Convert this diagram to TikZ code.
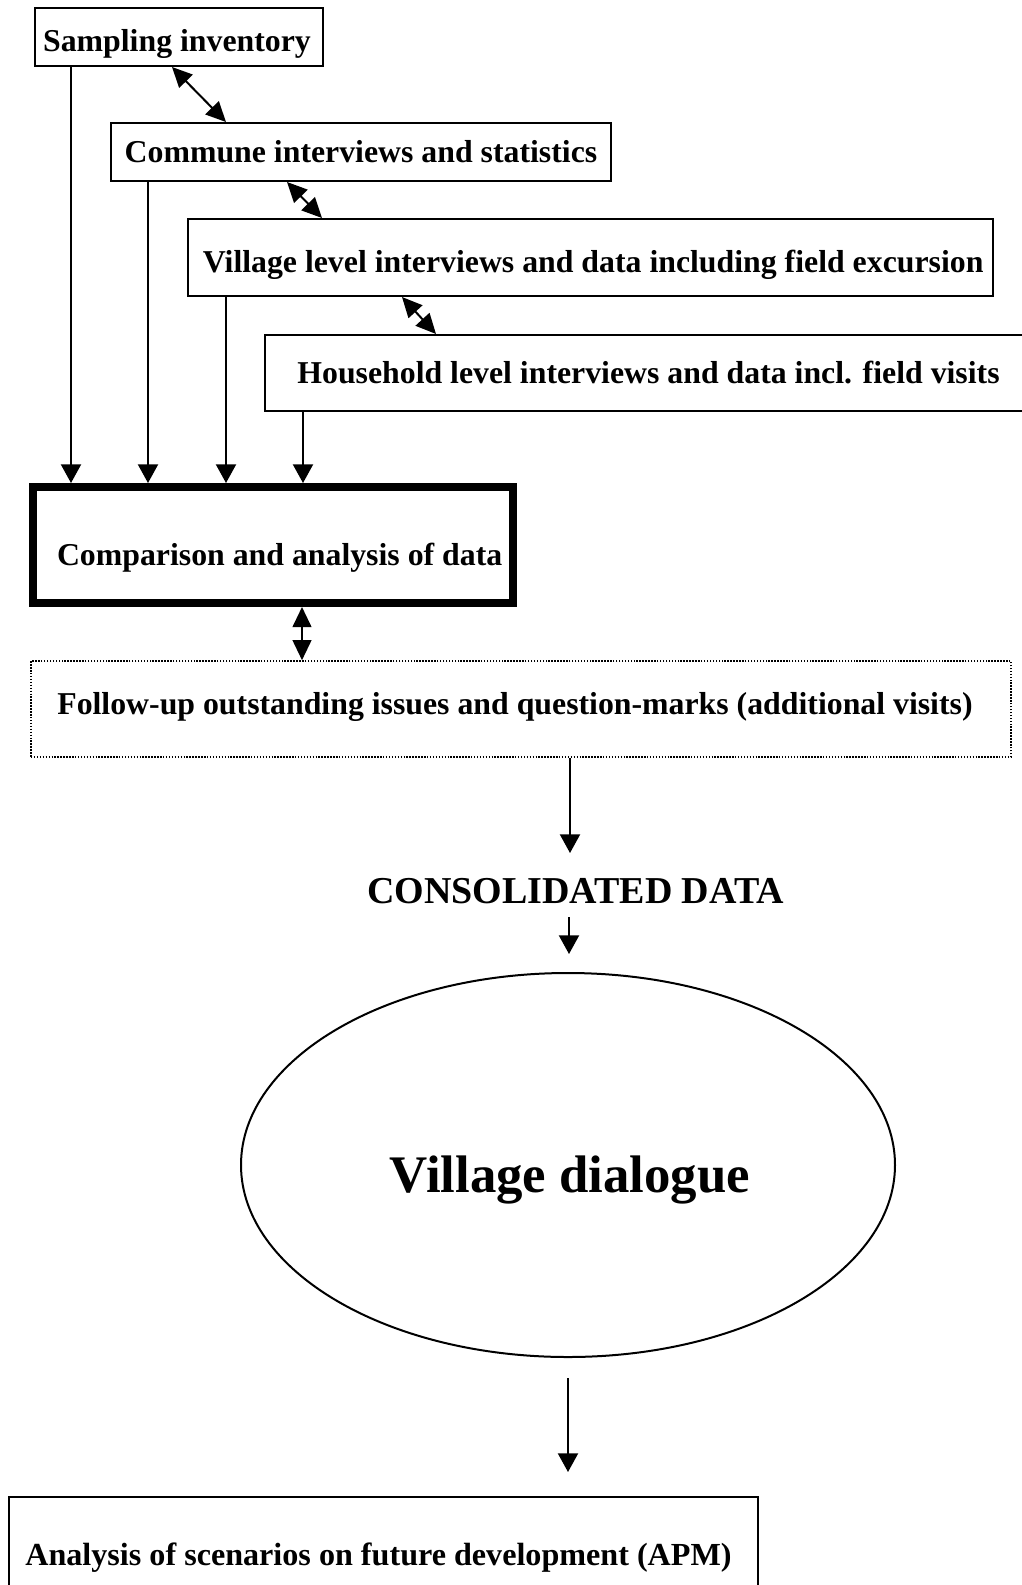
\documentclass[tikz,border=0pt]{standalone}
\usepackage{fontspec}
\setmainfont{Liberation Serif}
\usetikzlibrary{arrows.meta,shapes.geometric}
\begin{document}
\begin{tikzpicture}[x=0.75pt,y=-0.75pt,
  txt/.style={font=\fontsize{23.85}{28}\selectfont\bfseries},
  box/.style={draw,line width=1.5pt,inner sep=0pt,txt},
  thickbox/.style={draw,line width=6pt,inner sep=0pt},
  dotbox/.style={draw,line width=1.2pt,dash pattern=on 1.1pt off 1.1pt,inner sep=0pt},
  arr/.style={line width=1.5pt,-{Triangle[length=14pt,width=15pt]}},
  darr/.style={line width=1.5pt,{Triangle[length=15pt,width=14pt]}-{Triangle[length=15pt,width=14pt]}}]
\useasboundingbox (0,0) rectangle (1021,1585);

\node[box,minimum width=288*0.75pt,minimum height=58*0.75pt,
  label={[txt,xshift=-1.5pt,yshift=-5.25pt]center:Sampling inventory}] (samp) at (179,37) {};
\node[box,minimum width=500*0.75pt,minimum height=58*0.75pt] (comm) at (361,152) {Commune interviews and statistics};
\node[box,minimum width=805*0.75pt,minimum height=77*0.75pt,
  label={[txt,xshift=2pt,yshift=-5.25pt]center:Village level interviews and data including field excursion}] (vill) at (590.5,257.5) {};
\node[box,minimum width=767*0.75pt,minimum height=76*0.75pt] (hous) at (648.5,373) {Household level interviews and data incl. field visits};

\node[thickbox,minimum width=480*0.75pt,minimum height=116*0.75pt,
  label={[txt,xshift=5pt,yshift=-9.5pt]center:Comparison and analysis of data}] (comp) at (273,545) {};

\node[dotbox,minimum width=980*0.75pt,minimum height=96*0.75pt,
  label={[txt,xshift=-4.5pt,yshift=1.5pt]center:Follow-up outstanding issues and question-marks (additional visits)}] (foll) at (521,709) {};

\node[font=\fontsize{28.5}{33}\selectfont\bfseries,inner sep=0pt] (cons) at (575.5,891) {CONSOLIDATED DATA};

\node[ellipse,draw,line width=1.5pt,minimum width=654*0.75pt,minimum height=384*0.75pt,inner sep=0pt] (vd) at (568,1165) {};
\node[font=\fontsize{39.6}{46}\selectfont\bfseries,inner sep=0pt] (vdt) at (570,1180) {Village dialogue};

\node[box,minimum width=749*0.75pt,minimum height=103*0.75pt,
  label={[font=\fontsize{24.1}{28}\selectfont\bfseries,xshift=-3.75pt,yshift=-7pt]center:Analysis of scenarios on future development (APM)}] (apm) at (383.5,1548.5) {};

% vertical arrows into comparison
\draw[arr] (samp.south -| 71,0) -- (comp.north -| 71,0);
\draw[arr] (comm.south -| 148,0) -- (comp.north -| 148,0);
\draw[arr] (vill.south -| 226,0) -- (comp.north -| 226,0);
\draw[arr] (hous.south -| 303,0) -- (comp.north -| 303,0);

% diagonal double arrows
\draw[darr] (samp.south -| 172,0) -- (comm.north -| 226,0);
\draw[darr] (comm.south -| 287,0) -- (vill.north -| 322,0);
\draw[darr] (vill.south -| 402,0) -- (hous.north -| 436,0);

% comparison <-> follow-up
\draw[darr] (comp.south -| 302,0) -- (foll.north -| 302,0);

% follow-up -> consolidated
\draw[arr] (foll.south -| 570,0) -- (570,853);
\draw[arr] (569,917) -- ([yshift=13.5pt]vd.north -| 569,0);

% village dialogue -> APM
\draw[arr,shorten <=15pt,shorten >=18pt] (vd.south -| 568,0) -- (apm.north -| 568,0);
\end{tikzpicture}
\end{document}
